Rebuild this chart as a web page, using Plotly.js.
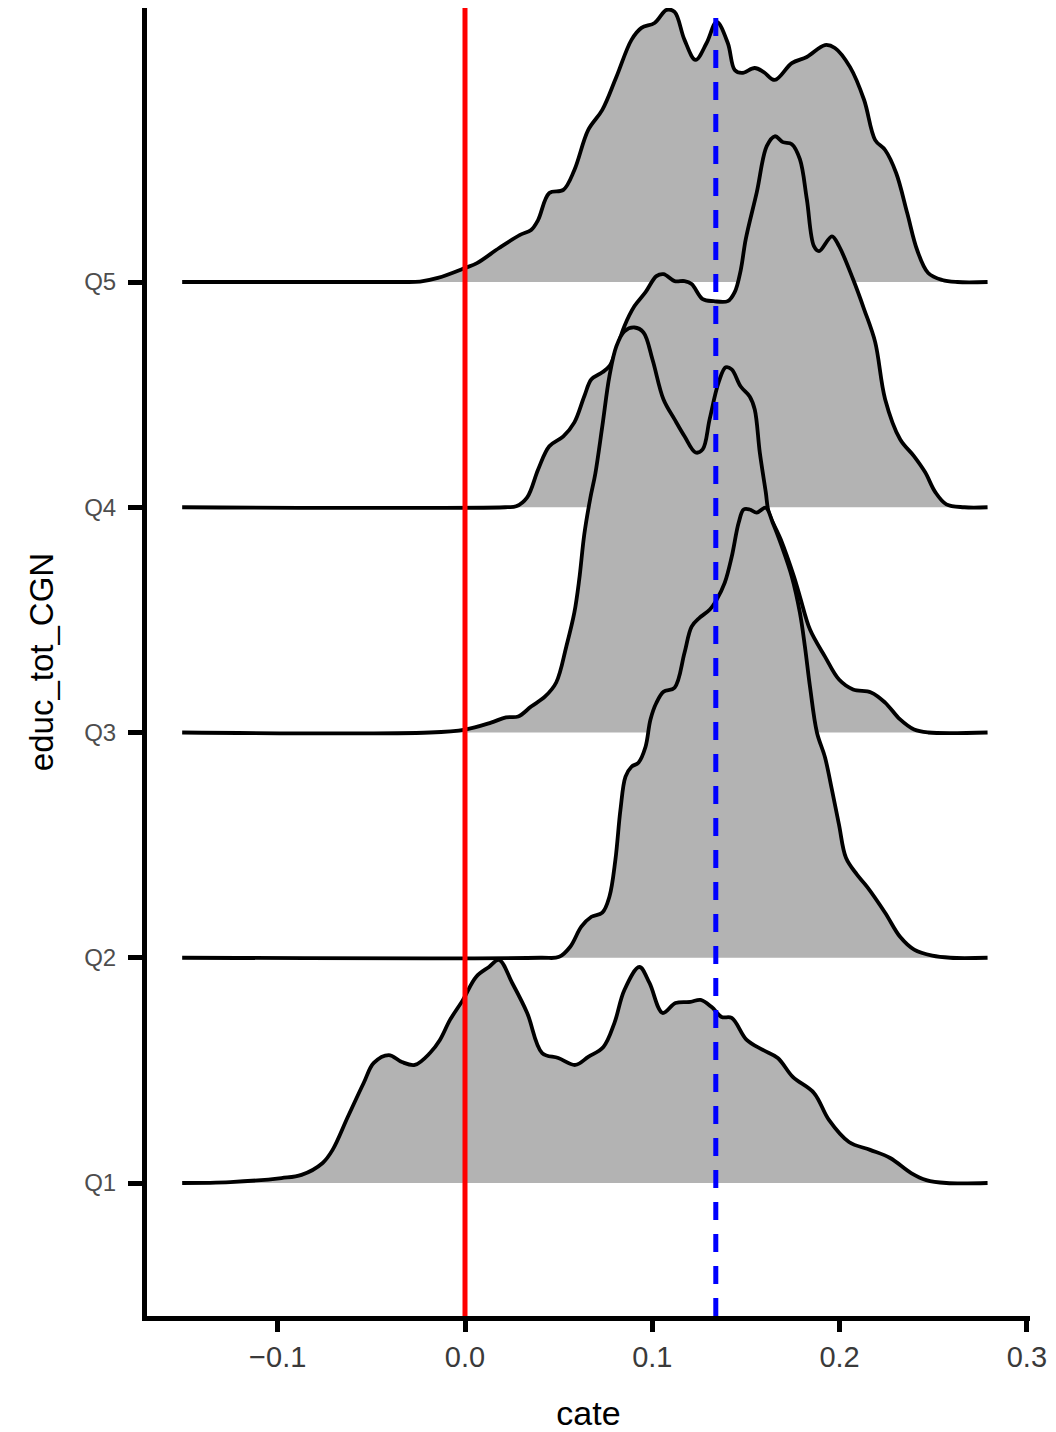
<!DOCTYPE html>
<html>
<head>
<meta charset="utf-8">
<script src="https://cdn.plot.ly/plotly-3.0.1.min.js"></script>
<style>
  html, body { margin: 0; padding: 0; background: #ffffff; }
  #chart { width: 1056px; height: 1432px; }
</style>
</head>
<body>
<div id="chart"></div>
<script>
// ---- categories and tick labels ----
const categories = ['Q1', 'Q2', 'Q3', 'Q4', 'Q5'];
const xTickVals = [-0.1, 0.0, 0.1, 0.2, 0.3];
const xTickText = ['\u22120.1', '0.0', '0.1', '0.2', '0.3'];

// reference lines
const zeroLineX = 0.0;
const meanLineX = 0.1339;

// ---- density ridges: x grid and ridge height (in row units) ----
const q5_x = [-0.151, -0.035, -0.024, -0.0145, 0.0, 0.0064, 0.0182, 0.0294, 0.0353, 0.039, 0.045, 0.0525, 0.0584, 0.0658, 0.0733, 0.0808, 0.0889, 0.0942, 0.1012, 0.1076, 0.1119, 0.1172, 0.1231, 0.129, 0.1344, 0.1403, 0.144, 0.1478, 0.1547, 0.1595, 0.1654, 0.1745, 0.1825, 0.1922, 0.1975, 0.2056, 0.2131, 0.219, 0.2243, 0.2302, 0.2361, 0.2414, 0.2473, 0.2548, 0.2629, 0.279];
const q5_h = [0, 0, 0.002, 0.018, 0.062, 0.084, 0.151, 0.209, 0.231, 0.275, 0.395, 0.409, 0.497, 0.675, 0.764, 0.910, 1.075, 1.128, 1.150, 1.208, 1.199, 1.075, 0.986, 1.061, 1.155, 1.061, 0.941, 0.928, 0.950, 0.932, 0.897, 0.972, 0.999, 1.052, 1.039, 0.954, 0.808, 0.630, 0.586, 0.484, 0.306, 0.142, 0.040, 0.009, 0, 0];

const q4_x = [-0.151, 0.0214, 0.0273, 0.0332, 0.0391, 0.045, 0.0525, 0.0584, 0.0637, 0.0675, 0.0733, 0.0771, 0.0803, 0.0851, 0.0905, 0.0964, 0.1022, 0.106, 0.1119, 0.1172, 0.121, 0.1269, 0.1328, 0.1403, 0.144, 0.1472, 0.1499, 0.1558, 0.1611, 0.1654, 0.1697, 0.1745, 0.1788, 0.1825, 0.1863, 0.189, 0.1959, 0.1997, 0.2072, 0.2131, 0.219, 0.2243, 0.2323, 0.2398, 0.2457, 0.2511, 0.257, 0.2666, 0.279];
const q4_h = [0, 0, 0.004, 0.044, 0.169, 0.271, 0.315, 0.377, 0.493, 0.568, 0.599, 0.626, 0.688, 0.804, 0.893, 0.955, 1.026, 1.035, 1.004, 1.004, 0.991, 0.924, 0.915, 0.915, 0.955, 1.052, 1.190, 1.399, 1.603, 1.647, 1.621, 1.612, 1.545, 1.368, 1.159, 1.137, 1.203, 1.159, 1.012, 0.879, 0.733, 0.480, 0.302, 0.226, 0.155, 0.067, 0.013, 0, 0];

const q3_x = [-0.151, -0.0187, 0.0, 0.0139, 0.0219, 0.0284, 0.0353, 0.0428, 0.0487, 0.0541, 0.0584, 0.061, 0.0637, 0.0669, 0.0696, 0.0733, 0.0771, 0.0808, 0.0851, 0.0905, 0.0953, 0.1001, 0.106, 0.1119, 0.1172, 0.1231, 0.1269, 0.1306, 0.1354, 0.1392, 0.1424, 0.1472, 0.152, 0.1547, 0.1574, 0.1606, 0.1622, 0.1686, 0.1756, 0.1788, 0.1842, 0.1922, 0.1997, 0.2072, 0.2168, 0.2243, 0.2323, 0.2398, 0.2473, 0.279];
const q3_h = [0, 0, 0.013, 0.044, 0.067, 0.071, 0.115, 0.160, 0.222, 0.382, 0.533, 0.680, 0.880, 1.040, 1.150, 1.359, 1.581, 1.714, 1.781, 1.798, 1.776, 1.656, 1.478, 1.390, 1.315, 1.243, 1.257, 1.390, 1.554, 1.621, 1.612, 1.536, 1.492, 1.434, 1.243, 1.066, 0.977, 0.857, 0.693, 0.604, 0.457, 0.337, 0.235, 0.191, 0.178, 0.133, 0.058, 0.013, 0, 0];

const q2_x = [-0.151, 0.0401, 0.0503, 0.0562, 0.0621, 0.0675, 0.0733, 0.0771, 0.0803, 0.083, 0.0857, 0.0889, 0.0926, 0.0964, 0.099, 0.1022, 0.106, 0.1119, 0.1172, 0.121, 0.1253, 0.1306, 0.1344, 0.1387, 0.1424, 0.1461, 0.1488, 0.152, 0.1558, 0.1606, 0.1643, 0.1692, 0.1745, 0.1788, 0.1815, 0.1842, 0.1879, 0.1922, 0.1959, 0.1997, 0.2034, 0.2093, 0.2147, 0.2243, 0.2323, 0.2398, 0.2495, 0.2591, 0.279];
const q2_h = [0, 0, 0.004, 0.049, 0.138, 0.182, 0.200, 0.271, 0.435, 0.657, 0.804, 0.848, 0.866, 0.937, 1.057, 1.132, 1.181, 1.199, 1.354, 1.470, 1.510, 1.545, 1.590, 1.665, 1.780, 1.931, 1.990, 1.990, 1.976, 1.998, 1.931, 1.825, 1.692, 1.532, 1.381, 1.203, 1.000, 0.890, 0.746, 0.590, 0.444, 0.369, 0.315, 0.200, 0.093, 0.036, 0.009, 0, 0];

const q1_x = [-0.151, -0.1253, -0.098, -0.0873, -0.076, -0.0707, -0.0626, -0.0541, -0.0487, -0.0407, -0.0337, -0.0268, -0.0187, -0.0134, -0.008, -0.0011, 0.0059, 0.0128, 0.0182, 0.0252, 0.0332, 0.0412, 0.0498, 0.0589, 0.0658, 0.0739, 0.0798, 0.0851, 0.0931, 0.0985, 0.1055, 0.1124, 0.1204, 0.1258, 0.1317, 0.137, 0.1424, 0.1504, 0.159, 0.167, 0.175, 0.1863, 0.1943, 0.205, 0.2163, 0.227, 0.2382, 0.2463, 0.257, 0.279];
const q1_h = [0, 0.004, 0.022, 0.036, 0.089, 0.147, 0.293, 0.444, 0.533, 0.568, 0.537, 0.524, 0.577, 0.635, 0.724, 0.813, 0.915, 0.959, 0.990, 0.888, 0.755, 0.577, 0.555, 0.524, 0.560, 0.604, 0.711, 0.857, 0.959, 0.888, 0.755, 0.799, 0.804, 0.813, 0.781, 0.737, 0.733, 0.635, 0.591, 0.555, 0.471, 0.400, 0.280, 0.182, 0.147, 0.111, 0.044, 0.013, 0, 0];

// ---- build traces (top group first so lower ridges overlay) ----
const groups = [
  { name: 'Q5', base: 5, x: q5_x, h: q5_h },
  { name: 'Q4', base: 4, x: q4_x, h: q4_h },
  { name: 'Q3', base: 3, x: q3_x, h: q3_h },
  { name: 'Q2', base: 2, x: q2_x, h: q2_h },
  { name: 'Q1', base: 1, x: q1_x, h: q1_h }
];

const traces = groups.map(g => ({
  type: 'scatter',
  mode: 'lines',
  name: g.name,
  x: g.x,
  y: g.h.map(v => g.base + v),
  fill: 'toself',
  fillcolor: '#B3B3B3',
  line: { color: '#000000', width: 3.8, shape: 'spline', smoothing: 1.0 },
  hoverinfo: 'skip',
  showlegend: false
}));

const fontFam = 'Liberation Sans, Arial, Helvetica, sans-serif';

const layout = {
  width: 1056,
  height: 1432,
  margin: { l: 147, r: 26, t: 8, b: 116 },
  paper_bgcolor: '#ffffff',
  plot_bgcolor: '#ffffff',
  showlegend: false,
  font: { family: fontFam, color: '#000000' },
  xaxis: {
    range: [-0.16978, 0.30166],
    tickvals: xTickVals,
    ticktext: xTickText,
    tickfont: { size: 29, color: '#3a3a3a', family: fontFam },
    ticks: 'outside',
    ticklen: 11,
    tickwidth: 5,
    tickcolor: '#000000',
    showline: true,
    linecolor: '#000000',
    linewidth: 5,
    showgrid: false,
    zeroline: false,
    title: { text: 'cate', font: { size: 34, color: '#000000', family: fontFam }, standoff: 34 }
  },
  yaxis: {
    range: [0.40955, 6.21643],
    tickvals: [1, 2, 3, 4, 5],
    ticktext: categories,
    tickfont: { size: 24, color: '#4d4d4d', family: fontFam },
    ticks: 'outside',
    ticklen: 14,
    tickwidth: 5,
    tickcolor: '#000000',
    ticklabelstandoff: 7,
    showline: true,
    linecolor: '#000000',
    linewidth: 5,
    showgrid: false,
    zeroline: false,
    title: { text: 'educ_tot_CGN', font: { size: 33, color: '#000000', family: fontFam }, standoff: 22 }
  },
  shapes: [
    {
      type: 'line', xref: 'x', yref: 'paper',
      x0: zeroLineX, x1: zeroLineX, y0: 0, y1: 1,
      line: { color: '#FF0000', width: 5 },
      layer: 'above'
    },
    {
      type: 'line', xref: 'x', yref: 'paper',
      x0: meanLineX, x1: meanLineX, y0: 0, y1: 1,
      line: { color: '#0000FF', width: 5, dash: '18px,14px' },
      layer: 'above'
    }
  ]
};

Plotly.newPlot('chart', traces, layout, { displayModeBar: false, staticPlot: true });
</script>
</body>
</html>
